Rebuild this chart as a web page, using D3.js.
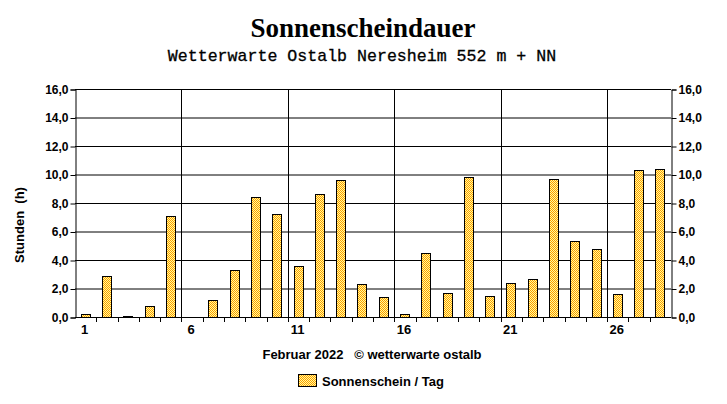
<!DOCTYPE html>
<html>
<head>
<meta charset="utf-8">
<script src="https://cdn.jsdelivr.net/npm/d3@7"></script>
<style>
  body { margin: 0; background: #fff; }
  svg { display: block; }
  text { font-family: Arial, "Liberation Sans", sans-serif; font-weight: bold; fill: #000; }
</style>
</head>
<body>
<svg width="727" height="404"></svg>
<script>
/* Daten */
const days    = d3.range(1, 29);
const sunHours = [0.2, 2.9, 0.1, 0.8, 7.1, 0.0, 1.2, 3.3, 8.4, 7.2,
                  3.6, 8.6, 9.6, 2.3, 1.4, 0.2, 4.5, 1.7, 9.8, 1.5,
                  2.4, 2.7, 9.7, 5.3, 4.8, 1.6, 10.3, 10.4];
const yTicks   = [0, 2, 4, 6, 8, 10, 12, 14, 16];
const dayLabels = [1, 6, 11, 16, 21, 26];

/* Layout */
const plotLeft = 75, plotRight = 671, plotTop = 89, plotBottom = 317;
const svg = d3.select("svg");

const x = d3.scaleBand().domain(days).range([plotLeft, plotRight]);
const y = d3.scaleLinear().domain([0, 16]).range([plotBottom, plotTop]);
const fmt = d => d3.format(".1f")(d).replace(".", ",");

// Karomuster fuer die Balken
const defs = svg.append("defs");
const pat = defs.append("pattern")
  .attr("id", "checker")
  .attr("width", 2).attr("height", 2)
  .attr("patternUnits", "userSpaceOnUse")
  .attr("shape-rendering", "crispEdges");
pat.append("rect").attr("width", 2).attr("height", 2).attr("fill", "#ffff99");
pat.append("rect").attr("width", 1).attr("height", 1).attr("fill", "#ff9900");
pat.append("rect").attr("x", 1).attr("y", 1).attr("width", 1).attr("height", 1).attr("fill", "#ff9900");

// Titel
svg.append("text")
  .attr("x", 363).attr("y", 37)
  .attr("text-anchor", "middle")
  .style("font-family", "'Liberation Serif', 'Times New Roman', serif")
  .style("font-size", "27px")
  .text("Sonnenscheindauer");

svg.append("text")
  .attr("x", 362).attr("y", 61)
  .attr("text-anchor", "middle")
  .style("font-family", "'Liberation Mono', 'Courier New', monospace")
  .style("font-weight", "normal")
  .style("font-size", "16.6px")
  .style("stroke", "#000").style("stroke-width", 0.3)
  .text("Wetterwarte Ostalb Neresheim 552 m + NN");

// horizontale Gitterlinien
svg.append("g").selectAll("line")
  .data(yTicks)
  .enter().append("line")
    .attr("x1", plotLeft).attr("x2", plotRight)
    .attr("y1", d => y(d) + 0.5).attr("y2", d => y(d) + 0.5)
    .attr("stroke", "#000");

// vertikale Gitterlinien (Wochenmarken)
svg.append("g").selectAll("line")
  .data(dayLabels.slice(1))
  .enter().append("line")
    .attr("x1", d => Math.round(x(d)) + 0.5).attr("x2", d => Math.round(x(d)) + 0.5)
    .attr("y1", plotTop).attr("y2", plotBottom)
    .attr("stroke", "#000");

// Balken
svg.append("g").selectAll("rect")
  .data(days)
  .enter().append("rect")
    .attr("x", d => Math.round(x(d) + x.bandwidth() / 2 - 5) + 0.5)
    .attr("y", (d, i) => Math.round(y(sunHours[i])) + 0.5)
    .attr("width", 9)
    .attr("height", (d, i) => Math.max(0, Math.round(y(0)) - Math.round(y(sunHours[i]))))
    .attr("fill", "url(#checker)")
    .attr("stroke", "#000")
    .attr("stroke-width", 1)
    .style("display", (d, i) => sunHours[i] > 0 ? null : "none");

// Achsen
const yLeft = svg.append("g")
  .attr("transform", `translate(${plotLeft + 0.5},0.5)`)
  .call(d3.axisLeft(y).tickValues(yTicks).tickFormat(fmt).tickSize(5).tickPadding(2));
const yRight = svg.append("g")
  .attr("transform", `translate(${plotRight + 0.5},0.5)`)
  .call(d3.axisRight(y).tickValues(yTicks).tickFormat(fmt).tickSize(5).tickPadding(2));
[yLeft, yRight].forEach(g => {
  g.select(".domain").attr("stroke", "#000");
  g.selectAll("line").attr("stroke", "#000");
  g.selectAll("text").style("font-size", "12px").attr("fill", "#000");
});

// x-Achse: kleine Striche an den Tagesgrenzen
svg.append("g").selectAll("line")
  .data(days.slice(1))
  .enter().append("line")
    .attr("x1", d => Math.round(x(d)) + 0.5).attr("x2", d => Math.round(x(d)) + 0.5)
    .attr("y1", plotBottom).attr("y2", plotBottom + 5)
    .attr("stroke", "#000");

svg.append("g").selectAll("text")
  .data(dayLabels)
  .enter().append("text")
    .attr("x", d => x(d) + x.bandwidth() / 2 - 1)
    .attr("y", 334)
    .attr("text-anchor", "middle")
    .style("font-size", "13px")
    .text(d => d);

// Achsentitel
svg.append("text")
  .attr("transform", "translate(24,225) rotate(-90)")
  .attr("text-anchor", "middle")
  .style("font-size", "13px")
  .style("white-space", "pre")
  .text("Stunden  (h)");

svg.append("text")
  .attr("x", 372).attr("y", 359)
  .attr("text-anchor", "middle")
  .style("font-size", "13px")
  .style("white-space", "pre")
  .text("Februar 2022   \u00a9 wetterwarte ostalb");

// Legende
svg.append("rect")
  .attr("x", 298.5).attr("y", 374.5)
  .attr("width", 18).attr("height", 12)
  .attr("fill", "url(#checker)")
  .attr("stroke", "#000");
svg.append("text")
  .attr("x", 322).attr("y", 386)
  .style("font-size", "13px")
  .text("Sonnenschein / Tag");
</script>
</body>
</html>
